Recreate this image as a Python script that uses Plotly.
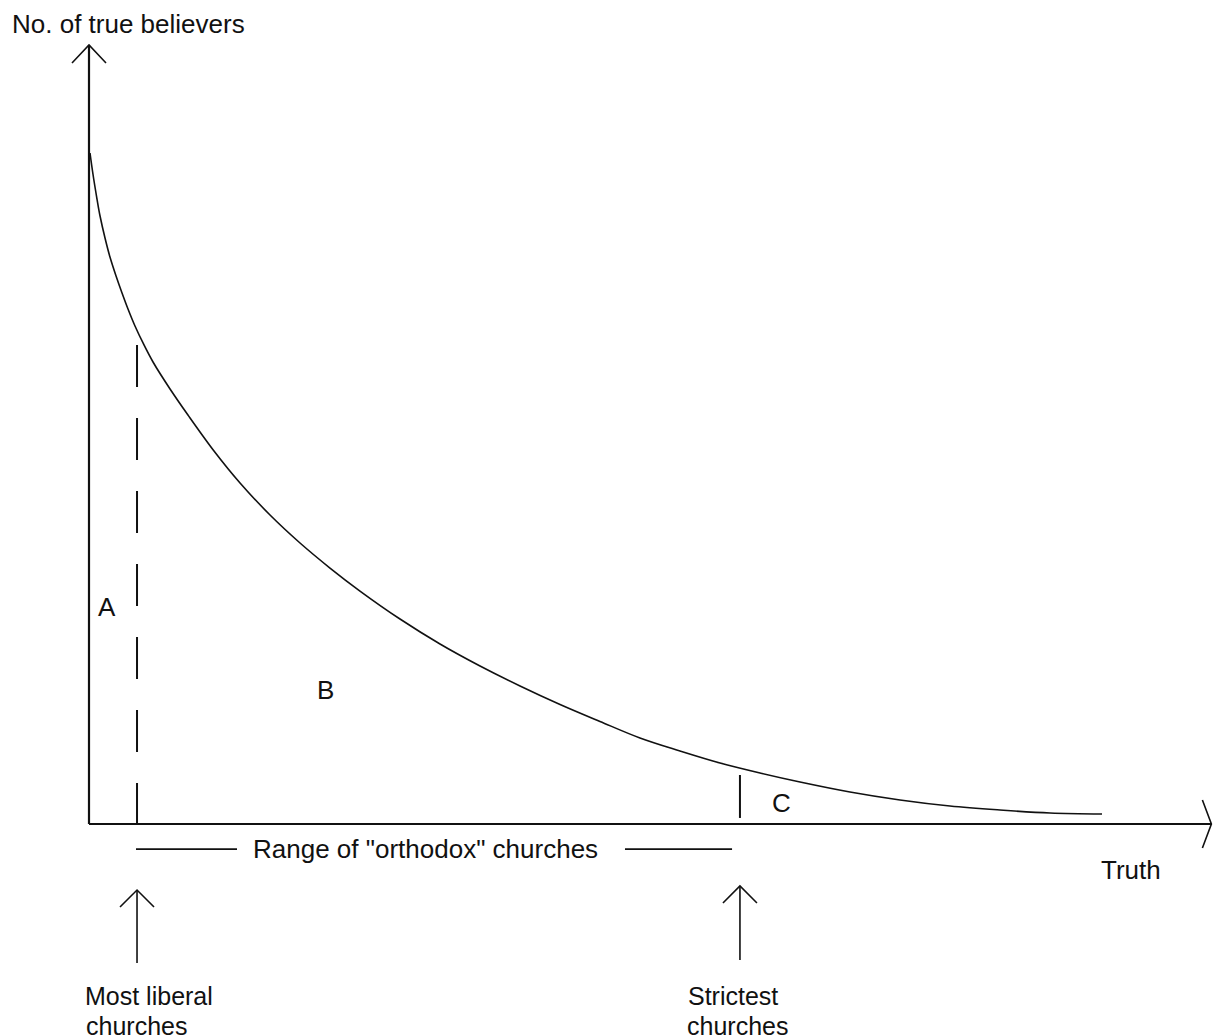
import plotly.graph_objects as go

# ---------------- data ----------------
truth = [0.10, 0.39, 0.79, 1.09, 1.58, 2.07, 2.67, 3.26, 3.85, 4.54, 5.43, 6.32, 8.00,
         9.77, 12.34, 14.91, 17.87, 20.83, 23.79, 26.75, 30.70, 34.65, 38.60, 42.55,
         46.50, 50.44, 54.39, 58.34, 62.29, 66.24, 70.19, 75.12, 80.06, 84.99, 89.93,
         94.87, 100.0]
believers = [100.0, 96.87, 93.14, 90.61, 87.33, 84.50, 81.67, 79.14, 76.75, 74.22, 71.39,
             68.85, 64.83, 60.95, 55.59, 50.82, 46.05, 41.88, 38.15, 34.72, 30.55, 26.83,
             23.55, 20.57, 17.81, 15.28, 12.82, 10.88, 9.09, 7.60, 6.26, 4.77, 3.58, 2.68,
             2.09, 1.64, 1.49]

axis_end_x = 110.8          # tip of truth axis arrow
axis_end_y = 116.1          # tip of believers axis arrow
liberal_x = 4.74            # most liberal churches
strict_x = 64.26            # strictest churches
dash_top = 71.4             # top of dashed boundary line
strict_tick = [7.3, 0.9]    # short solid boundary line
range_y = -3.73
range_left = [4.64, 14.61]
range_right = [52.91, 63.48]
arrow_tips = [-9.84, -9.24]
arrow_bases = [-20.72, -20.27]

labels = ["A", "B", "C"]
label_x = [1.78, 23.3, 68.41]
label_y = [32.3, 19.9, 3.2]

# ---------------- layout geometry ----------------
W, H = 1213, 1036
PAGE_PAD = 0              # body margin removed by the post script
OX, OY = 89, 824          # page-pixel position of the origin
PX_X, PX_Y = 10.13, 6.71  # pixels per data unit
xr = [(PAGE_PAD - OX) / PX_X, (PAGE_PAD + W - OX) / PX_X]
yr = [(OY - PAGE_PAD - H) / PX_Y, (OY - PAGE_PAD) / PX_Y]

FONT = "Liberation Sans, Arial, Helvetica, sans-serif"
BLACK = "#111111"

fig = go.Figure()


def line(xs, ys, width=1.6, dash=None, shape="linear"):
    fig.add_trace(go.Scatter(x=xs, y=ys, mode="lines", hoverinfo="skip",
                             line=dict(color=BLACK, width=width, dash=dash, shape=shape),
                             showlegend=False))


def head(tx, ty, direction, along=17, across=17):
    # open V arrow head, sizes in pixels converted to data units
    if direction == "up":
        xs = [tx - across / PX_X, tx, tx + across / PX_X]
        ys = [ty - along / PX_Y, ty, ty - along / PX_Y]
    else:  # right
        xs = [tx - along / PX_X, tx, tx - along / PX_X]
        ys = [ty + across / PX_Y, ty, ty - across / PX_Y]
    line(xs, ys, width=1.6)


# axes
line([0, 0], [0, axis_end_y], width=2.2)
line([0, axis_end_x], [0, 0], width=2.2)
head(0, axis_end_y, "up", along=18, across=17)
head(axis_end_x, 0, "right", along=9, across=24)

# curve
line(truth, believers, width=1.6, shape="spline")

# boundaries
line([liberal_x, liberal_x], [dash_top, 0], width=2, dash="42px,31px")
line([strict_x, strict_x], strict_tick, width=2)

# range lines
line(range_left, [range_y, range_y], width=1.8)
line(range_right, [range_y, range_y], width=1.8)

# arrows below
for ax_x, tip, base in zip([liberal_x, strict_x], arrow_tips, arrow_bases):
    line([ax_x, ax_x], [base, tip], width=1.6)
    head(ax_x, tip, "up", along=17, across=17)

# ---------------- text ----------------
annos = []


def text(t, x, y, xanchor="center", yanchor="middle", size=26):
    annos.append(dict(text=t, x=x, y=y, xref="x", yref="y", showarrow=False,
                      xanchor=xanchor, yanchor=yanchor,
                      font=dict(family=FONT, size=size, color=BLACK)))


for t, x, y in zip(labels, label_x, label_y):
    text(t, x, y)

text("No. of true believers", -7.8, 119.2, xanchor="left")
text("Range of \"orthodox\" churches", 33.17, -3.7)
text("Truth", 102.86, -6.9)

first_line_y = -28.02
second_line_y = -27.72
text("Most liberal", -0.59, first_line_y, xanchor="left", yanchor="bottom", size=25)
text("churches", -0.49, second_line_y, xanchor="left", yanchor="top", size=25)
text("Strictest", 58.95, first_line_y, xanchor="left", yanchor="bottom", size=25)
text("churches", 58.85, second_line_y, xanchor="left", yanchor="top", size=25)

fig.update_layout(
    width=W, height=H,
    margin=dict(l=0, r=0, t=0, b=0),
    paper_bgcolor="white", plot_bgcolor="white",
    xaxis=dict(range=xr, visible=False, fixedrange=True),
    yaxis=dict(range=yr, visible=False, fixedrange=True),
    annotations=annos,
    showlegend=False,
)

fig.write_html(
    "out.html",
    config={"displayModeBar": False},
    post_script="document.body.style.margin='0px';"
                "document.documentElement.style.overflow='hidden';",
)
